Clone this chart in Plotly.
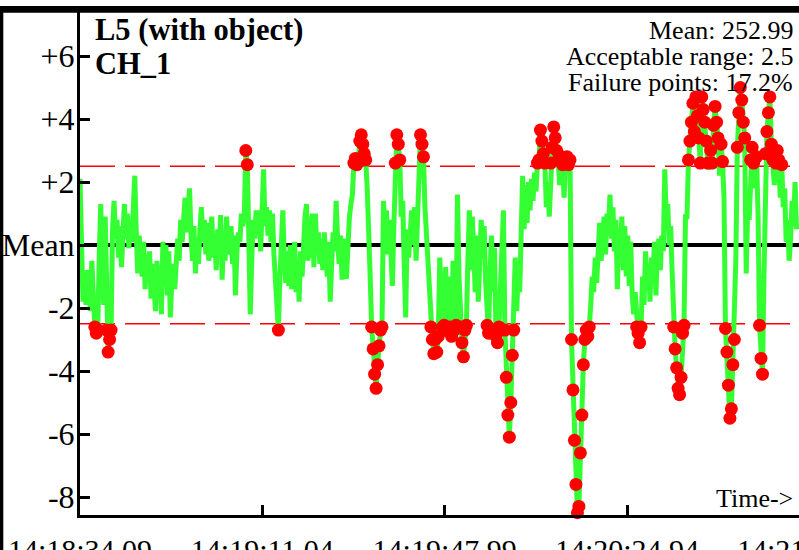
import plotly.graph_objects as go

# ---------------- data ----------------
start_label = "14:18:34.09"
sample_interval_s = 0.3
mean_value = 252.99
acceptable_range = 2.5
failure_pct = 17.2

# deviation from mean, one value per sample
deviation = [
    2.1, -0.9, -1.8, -1.0, -1.9, -0.8, -1.5, -2.1, -0.5, -1.9,
    -2.6, -2.8, -2.7, -0.3, 1.3, -0.8, -1.9, 0.9, -2.7, -3.4,
    -3.0, -2.7, 0.5, 1.4, 0.2, 0.8, -0.4, 0.6, -0.7, 0.3,
    1.3, 0.2, 1.0, -0.1, 0.7, 0.1, 1.0, 2.2, 0.4, -0.9,
    0.3, -0.5, -1.0, 0.1, -1.4, -0.3, -1.1, -0.2, -1.7, -0.6,
    -1.3, -2.1, -0.5, -1.5, -0.9, -2.2, 0.1, -1.0, 0.0, -1.6,
    -0.2, -2.3, -1.2, -0.6, -1.4, -0.8, 0.2, -0.5, 0.8, 0.1,
    1.1, 1.5, 0.4, 1.0, 1.8, 0.3, -0.5, 0.6, -0.9, 0.2,
    -0.6, 0.5, 1.2, 0.1, 0.8, -0.3, 0.7, -0.5, 0.4, 0.9,
    -0.4, 0.3, -0.8, 0.5, -0.2, 0.95, -1.1, 0.2, -0.5, 0.9,
    0.1, -0.3, 0.6, -0.6, 0.3, -1.6, -0.2, 0.4, 0.1, 1.0,
    0.6, 1.0, 3.0, 2.55, 0.3, -2.2, -0.5, 0.8, 0.2, 1.1,
    0.3, 1.1, -0.2, 0.8, 2.4, 0.6, 1.2, 0.3, 1.1, 0.1,
    1.0, -0.3, -1.0, -2.1, -2.7, -1.1, 0.2, 1.1, -0.4, -1.2,
    -0.2, -1.3, 0.0, -1.4, -0.6, 0.1, -1.5, -0.5, -1.8, -0.2,
    -1.0, 0.3, 0.9, 1.3, -0.5, 0.9, -0.4, 1.0, -0.7, 1.0,
    -0.3, 0.4, -0.6, 0.2, -0.8, 0.4, -0.3, -1.0, 0.1, -1.8,
    -0.6, 0.4, -0.2, 1.4, 0.2, -0.6, 0.3, -1.1, 0.2, -1.0,
    -1.0, 0.4, 0.9, 1.3, 1.6, 2.6, 2.75, 2.55, 2.7, 3.3,
    3.5, 3.2, 2.9, 2.7, 1.8, 0.8, -1.0, -2.6, -3.3, -4.1,
    -4.55, -3.8, -3.2, -2.7, -2.6, 1.4, 0.2, 1.1, -0.3, 0.8,
    -0.2, -1.3, 0.6, 2.6, 3.5, 3.2, 2.7, 0.9, 1.4, -0.6,
    -2.3, 0.5, -0.4, 0.3, 1.1, 0.0, 1.2, -0.5, 1.3, 2.1,
    3.5, 3.2, 2.8, 1.2, 0.4, -0.8, -1.5, -2.6, -3.0, -3.45,
    -3.0, -3.4, -2.9, -0.4, -1.8, -2.6, -2.55, -0.7, -2.7, -1.0,
    -2.6, -2.9, -0.5, -2.7, -2.55, 1.6, -1.0, -2.6, -3.1, -3.55,
    -2.7, -2.55, -0.5, 1.1, -0.8, 0.9, -0.3, -1.5, 0.3, -1.8,
    -0.6, 0.8, -0.4, 0.6, -1.2, -2.55, -2.8, -0.8, 0.3, -1.5,
    -0.1, -2.9, -3.1, -2.6, -1.6, -0.6, 1.1, -2.7, -4.2, -5.4,
    -6.1, -5.0, -3.5, -2.7, -0.4, -2.1, -0.9, -1.5, 0.8, 2.2,
    0.5, 1.9, 0.7, 2.0, 1.1, 2.1, 1.4, 2.3, 1.7, 2.6,
    2.7, 3.65, 3.3, 2.9, 2.6, 1.2, 2.0, 0.9, 2.6, 3.1,
    3.75, 3.4, 3.0, 2.7, 1.9, 2.8, 2.55, 1.5, 2.6, 2.8,
    2.55, 2.7, -3.0, -4.6, -6.2, -7.6, -8.5, -8.3, -6.6, -5.4,
    -3.8, -3.0, -2.7, -2.9, -2.6, -1.9, -1.0, -1.5, -0.4, -1.2,
    -0.2, 0.7, -0.5, 0.4, 0.9, -0.3, 1.0, 0.6, 1.6, 0.2,
    1.2, -0.2, 0.8, -1.4, 0.5, -0.4, 0.9, -0.8, 0.6, -1.0,
    0.3, -1.3, 0.1, -1.6, -2.2, -1.5, -2.6, -2.8, -3.1, -2.6,
    -1.0, -1.9, -0.2, -1.3, -0.6, -1.8, -0.4, -1.2, 0.1, -1.6,
    -0.3, 0.2, -0.8, 0.3, -0.2, 2.4, 0.8, 1.3, 0.0, 0.6,
    -0.9, -2.6, -3.3, -3.9, -4.55, -4.75, -4.2, -2.8, -2.55, 0.9,
    0.9, 2.7, 3.3, 3.9, 4.5, 3.6, 4.7, 4.1, 3.4, 2.6,
    4.7, 4.3, 3.9, 3.3, 2.6, 2.4, 3.0, 2.6, 3.8, 4.4,
    3.9, 3.4, 2.2, 3.2, 2.65, 1.5, -2.65, -3.4, -4.45, -5.5,
    -5.2, -3.8, -3.0, -0.5, 3.1, 4.2, 5.0, 4.6, 3.9, 3.4,
    -0.9, 1.2, 0.8, 2.7, 3.1, 2.6, 1.8, 2.8, 1.0, -2.55,
    -3.6, -4.1, -1.0, 2.9, 3.6, 4.2, 4.7, 3.2, 2.7, 1.9,
    2.6, 3.0, 2.7, 1.5, 2.55, 1.2, 1.8, 0.1, 0.8, -0.5,
    0.2, 1.4, 0.6, 2.0, 0.5,
]

# x axis: seconds elapsed since start_label
tick_seconds = [0.0, 36.95, 73.90, 110.85, 147.80]
tick_labels = ["14:18:34.09", "14:19:11.04", "14:19:47.99", "14:20:24.94", "14:21:01.89"]
x_end_s = 145.7

y_tickvals = [6, 4, 2, 0, -2, -4, -6, -8]
y_ticktext = ["+6", "+4", "+2", "Mean", "-2", "-4", "-6", "-8"]
y_range = [-8.571, 7.397]

title_lines = ["L5 (with object)", "CH_1"]
info_lines = [f"Mean: {mean_value:.2f}",
              f"Acceptable range: {acceptable_range}",
              f"Failure points: {failure_pct}%"]

# ---------------- build ----------------
t = [i * sample_interval_s for i in range(len(deviation))]
fail_t = [ti for ti, v in zip(t, deviation) if abs(v) > acceptable_range]
fail_v = [v for v in deviation if abs(v) > acceptable_range]

W, H = 799, 550
ML, MR, MT, MB = 80, 0, 12, 35
PW, PH = W - ML - MR, H - MT - MB
FONT = "Liberation Serif"
XTICK_SIZE = 30
YTICK_SIZE = 32


def px(xp):
    return (xp - ML) / PW


def py(yp):
    return (H - MB - yp) / PH


fig = go.Figure()
fig.add_trace(go.Scatter(x=t, y=deviation, mode="lines",
                         line=dict(color="#33ff33", width=5),
                         hoverinfo="skip", showlegend=False))
fig.add_trace(go.Scatter(x=fail_t, y=fail_v, mode="markers",
                         marker=dict(color="#ff0000", size=13, line=dict(width=0)),
                         cliponaxis=False, hoverinfo="skip", showlegend=False))

shapes = [
    dict(type="line", xref="paper", yref="y", x0=0, x1=1, y0=0, y1=0,
         line=dict(color="black", width=4), layer="below"),
    dict(type="line", xref="paper", yref="y", x0=0, x1=1,
         y0=acceptable_range, y1=acceptable_range,
         line=dict(color="#ff0000", width=1.5, dash="35px,10px"), layer="below"),
    dict(type="line", xref="paper", yref="y", x0=0, x1=1,
         y0=-acceptable_range, y1=-acceptable_range,
         line=dict(color="#ff0000", width=1.5, dash="35px,10px"), layer="below"),
    # frame bands
    dict(type="rect", xref="paper", yref="paper", x0=px(-5), x1=px(W + 5),
         y0=py(12.7), y1=py(6), fillcolor="black", line=dict(width=0)),
    dict(type="rect", xref="paper", yref="paper", x0=px(-5), x1=px(3.3),
         y0=py(H + 5), y1=py(6), fillcolor="black", line=dict(width=0)),
]

annotations = []
for txt, yc in zip(title_lines, [30, 64]):
    annotations.append(dict(text=f"<b>{txt}</b>", xref="paper", yref="paper",
                            x=px(93), y=py(yc), xanchor="left", yanchor="middle",
                            showarrow=False, font=dict(family=FONT, size=30.5, color="black")))
for txt, yc in zip(info_lines, [30, 56, 82]):
    annotations.append(dict(text=txt, xref="paper", yref="paper",
                            x=px(795), y=py(yc), xanchor="right", yanchor="middle",
                            showarrow=False, font=dict(family=FONT, size=26, color="black")))
annotations.append(dict(text="Time->", xref="paper", yref="paper",
                        x=px(795), y=py(498), xanchor="right", yanchor="middle",
                        showarrow=False, font=dict(family=FONT, size=26, color="black")))
# tick labels beyond the visible axis end (clipped by the page edge)
for ts, lab in zip(tick_seconds, tick_labels):
    if ts > x_end_s:
        annotations.append(dict(text=lab, xref="paper", yref="paper",
                                x=ts / x_end_s, y=py(531), xanchor="center", yanchor="top",
                                showarrow=False,
                                font=dict(family=FONT, size=XTICK_SIZE, color="black")))

in_range = [(s, l) for s, l in zip(tick_seconds, tick_labels) if s <= x_end_s]

fig.update_layout(
    width=W, height=H,
    margin=dict(l=ML, r=MR, t=MT, b=MB, pad=0, autoexpand=False),
    paper_bgcolor="white", plot_bgcolor="white",
    font=dict(family=FONT, size=28, color="black"),
    showlegend=False,
    shapes=shapes,
    annotations=annotations,
    xaxis=dict(range=[0, x_end_s], tickmode="array", automargin=False,
               tickvals=[s for s, _ in in_range], ticktext=[l for _, l in in_range],
               ticks="inside", ticklen=10, tickwidth=3, tickcolor="black",
               showline=True, linewidth=3, linecolor="black",
               showgrid=False, zeroline=False, ticklabelstandoff=6,
               tickfont=dict(family=FONT, size=XTICK_SIZE, color="black")),
    yaxis=dict(range=y_range, tickmode="array", tickvals=y_tickvals, ticktext=y_ticktext,
               automargin=False,
               ticks="inside", ticklen=10, tickwidth=3, tickcolor="black",
               showline=True, linewidth=3, linecolor="black",
               showgrid=False, zeroline=False, ticklabelstandoff=-4,
               tickfont=dict(family=FONT, size=YTICK_SIZE, color="black")),
)

fig.write_html("out.html",
               config={"displayModeBar": False},
               post_script="document.body.style.margin='0px';"
                           "document.body.style.overflow='hidden';")
